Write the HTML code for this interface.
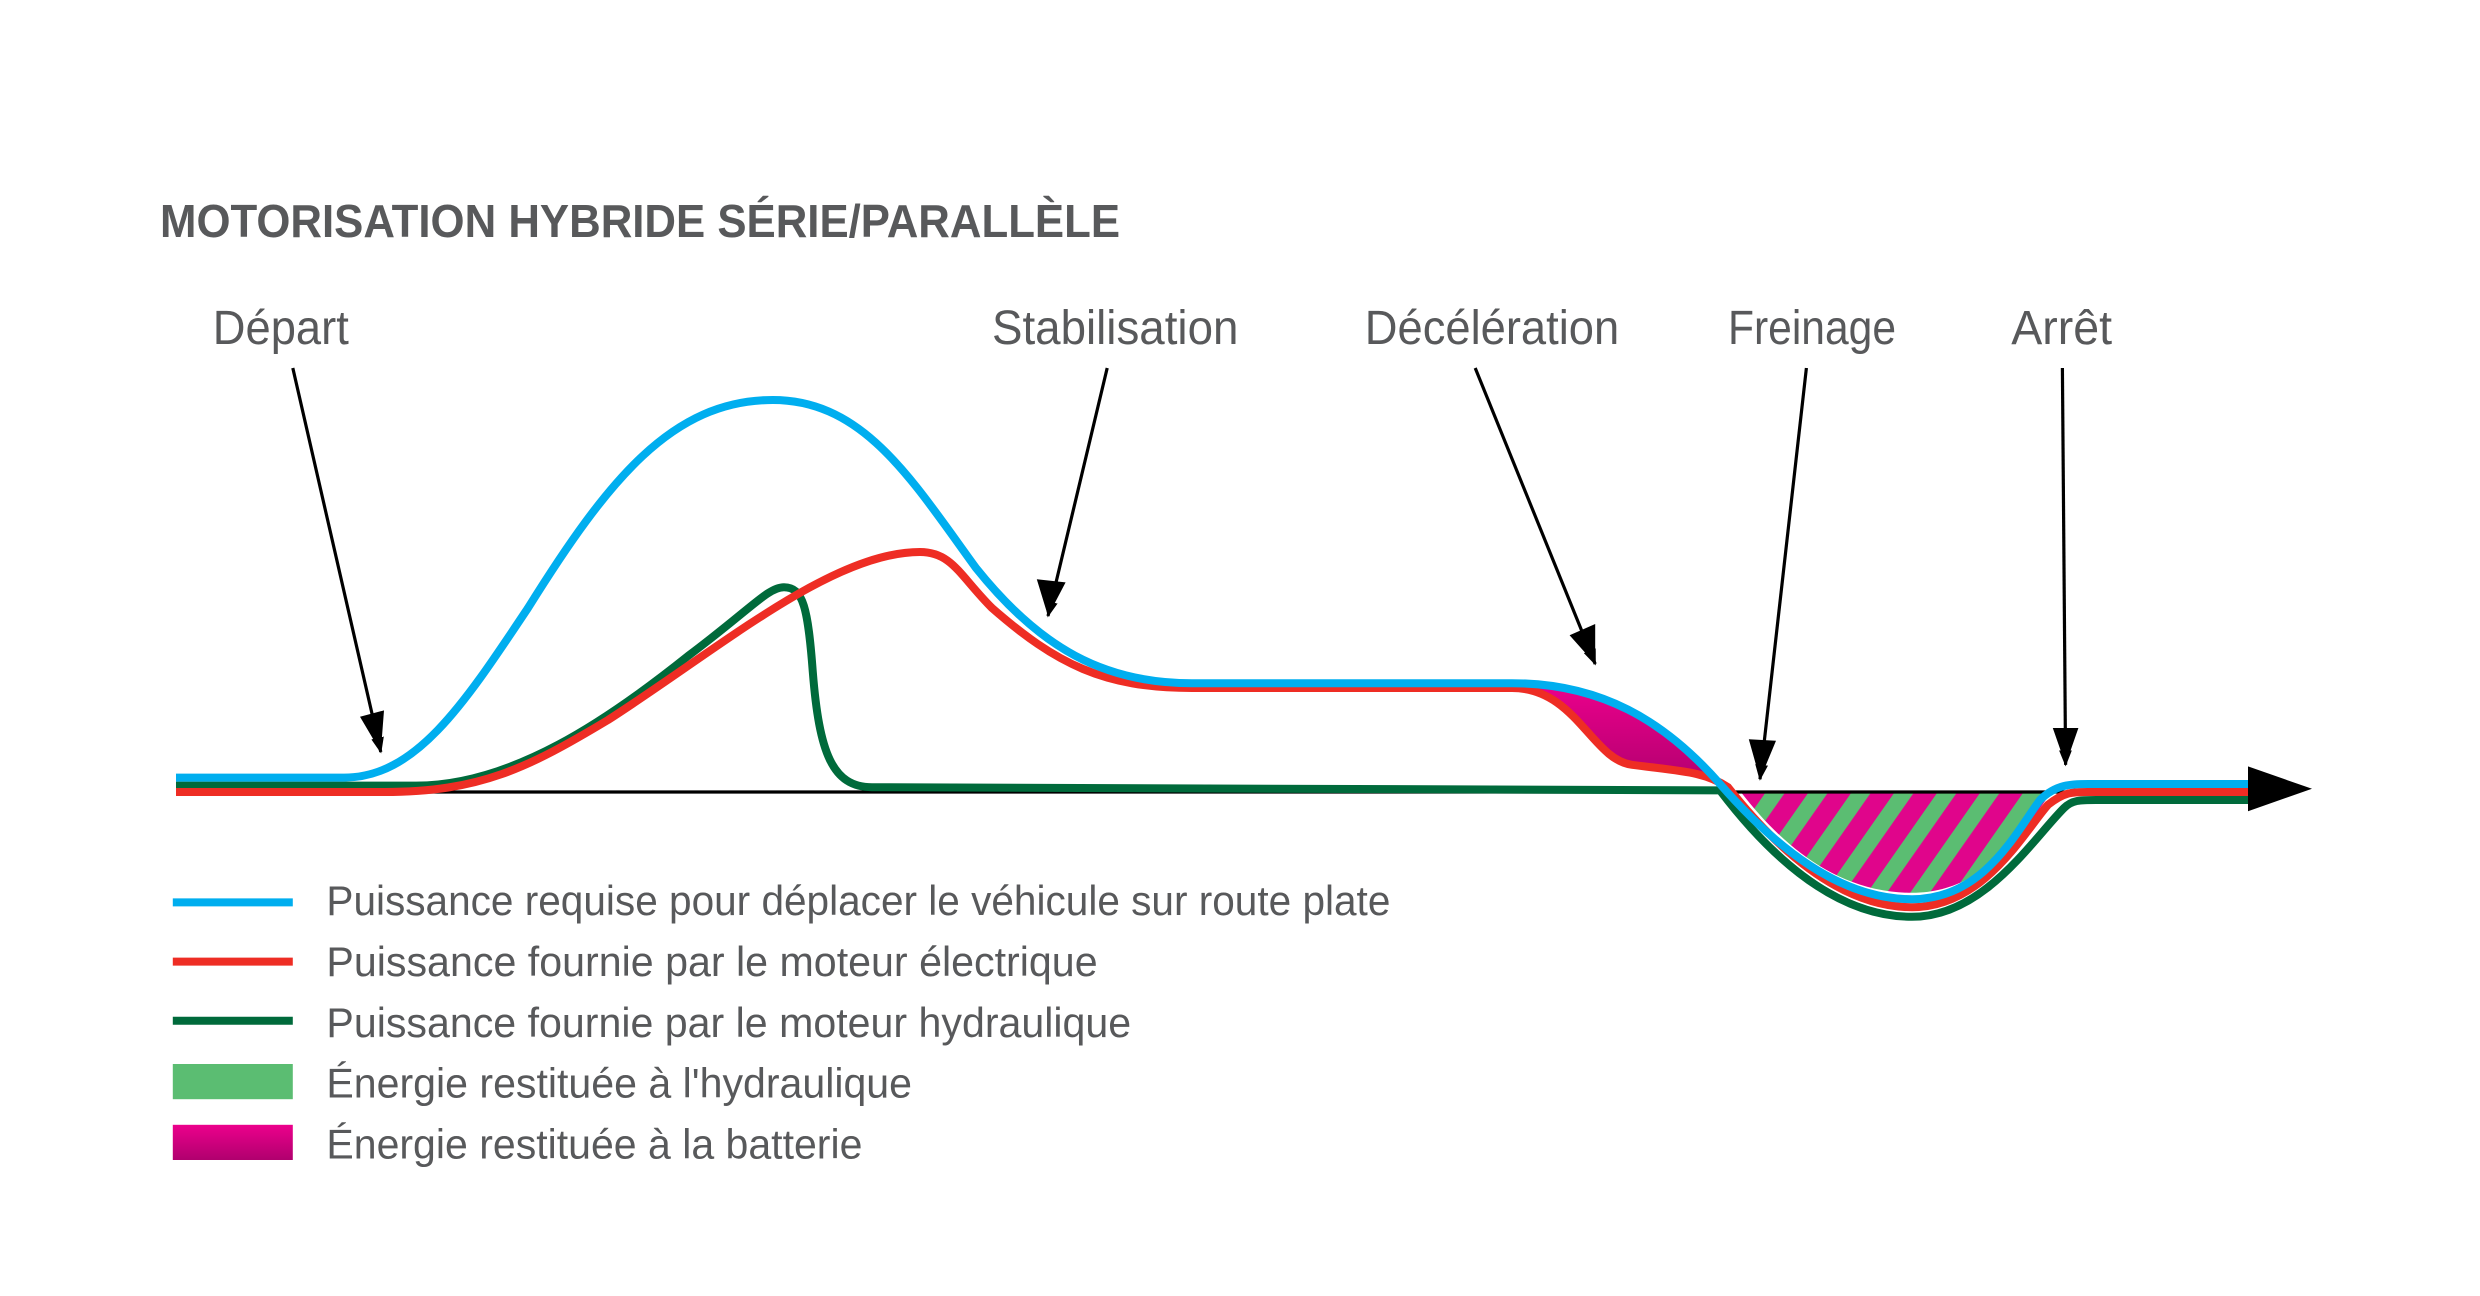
<!DOCTYPE html>
<html><head><meta charset="utf-8"><style>
html,body{margin:0;padding:0;background:#fff;}
svg{display:block;}
text{font-family:"Liberation Sans",sans-serif;fill:#58595b;}
</style></head><body>
<svg width="2480" height="1296" viewBox="0 0 1550 810" xmlns="http://www.w3.org/2000/svg">
<defs>
<linearGradient id="mg" x1="0" y1="0" x2="0" y2="1">
<stop offset="0" stop-color="#ec008c"/><stop offset="1" stop-color="#b0006e"/></linearGradient>
<pattern id="st" width="22" height="22" patternUnits="userSpaceOnUse" patternTransform="rotate(35)">
<rect width="22" height="22" fill="#e0058b"/><rect width="10" height="22" fill="#5bbd72"/></pattern>
<marker id="ah" markerWidth="10" markerHeight="8" refX="9" refY="4" orient="auto" markerUnits="userSpaceOnUse" viewBox="0 0 10 8">
<path d="M0,0 L10,4 L0,8 Z" fill="#000"/></marker>
</defs>
<rect width="1550" height="810" fill="#fff"/>
<text x="100" y="148" font-size="29" font-weight="bold" textLength="600" lengthAdjust="spacingAndGlyphs">MOTORISATION HYBRIDE SÉRIE/PARALLÈLE</text>
<g font-size="30">
<text x="133" y="215" textLength="85" lengthAdjust="spacingAndGlyphs">Départ</text>
<text x="620" y="215" textLength="154" lengthAdjust="spacingAndGlyphs">Stabilisation</text>
<text x="853" y="215" textLength="159" lengthAdjust="spacingAndGlyphs">Décélération</text>
<text x="1080" y="215" textLength="105" lengthAdjust="spacingAndGlyphs">Freinage</text>
<text x="1257" y="215" textLength="63" lengthAdjust="spacingAndGlyphs">Arrêt</text>
</g>
<path d="M945,427 C1000,427 1040,450 1075,490 L1080,492 C1065,482 1050,482 1020,478 C995,475 985,430 945,430 Z" fill="url(#mg)"/>
<path d="M1088,495 L1282,495 C1265,520 1240,558 1195,558 C1150,558 1115,530 1088,495 Z" fill="url(#st)"/>
<line x1="110" y1="495" x2="1415" y2="495" stroke="#000" stroke-width="2"/>
<path d="M110,491 L260,491 C320,491 380,450 430,410 C470,380 480,367 490,367 C502,367 505,380 508,420 C512,470 520,492 545,492 L1075,494 C1110,540 1150,573 1195,573 C1240,573 1270,525 1290,505 C1295,500 1300,500 1310,500 L1410,500" fill="none" stroke="#006a3b" stroke-width="5"/>
<path d="M110,495 L240,495 C300,495 330,480 380,450 C450,405 520,345 575,345 C595,345 600,360 620,380 C660,415 690,430 745,430 L945,430 C985,430 995,475 1020,478 C1050,482 1065,482 1080,492 C1110,530 1150,567 1195,567 C1240,567 1265,520 1280,503 C1290,495 1295,495 1305,495 L1410,495" fill="none" stroke="#ee2d24" stroke-width="5"/>
<path d="M110,486 L215,486 C260,486 290,440 330,380 C380,300 420,250 483,250 C540,250 570,300 610,355 C650,405 690,427 745,427 L945,427 C1000,427 1040,450 1075,490 C1110,530 1150,562 1195,562 C1240,562 1260,520 1275,500 C1285,490 1295,490 1305,490 L1410,490" fill="none" stroke="#00aeef" stroke-width="5"/>
<path d="M1405,479 L1445,493 L1405,507 Z" fill="#000"/>
<g stroke="#000" stroke-width="2" marker-end="url(#ah)" fill="none">
<line x1="183" y1="230" x2="238" y2="470"/>
<line x1="692" y1="230" x2="655" y2="385"/>
<line x1="922" y1="230" x2="997" y2="415"/>
<line x1="1129" y1="230" x2="1100" y2="487"/>
<line x1="1289" y1="230" x2="1291" y2="478"/>
</g>
<path d="M225,448 L238,470 L240,444 Z M648,362 L655,385 L666,364 Z M981,397 L997,415 L997,390 Z M1093,462 L1100,487 L1110,463 Z M1283,455 L1291,478 L1299,455 Z" fill="#000"/>
<line x1="108" y1="564" x2="183" y2="564" stroke="#00aeef" stroke-width="5"/>
<line x1="108" y1="601" x2="183" y2="601" stroke="#ee2d24" stroke-width="5"/>
<line x1="108" y1="638" x2="183" y2="638" stroke="#006a3b" stroke-width="5"/>
<rect x="108" y="665" width="75" height="22" fill="#5bbd72"/>
<rect x="108" y="703" width="75" height="22" fill="url(#mg)"/>
<g font-size="26">
<text x="204" y="572" textLength="665" lengthAdjust="spacingAndGlyphs">Puissance requise pour déplacer le véhicule sur route plate</text>
<text x="204" y="610" textLength="482" lengthAdjust="spacingAndGlyphs">Puissance fournie par le moteur électrique</text>
<text x="204" y="648" textLength="503" lengthAdjust="spacingAndGlyphs">Puissance fournie par le moteur hydraulique</text>
<text x="204" y="686" textLength="366" lengthAdjust="spacingAndGlyphs">Énergie restituée à l'hydraulique</text>
<text x="204" y="724" textLength="335" lengthAdjust="spacingAndGlyphs">Énergie restituée à la batterie</text>
</g>
</svg>
</body></html>
